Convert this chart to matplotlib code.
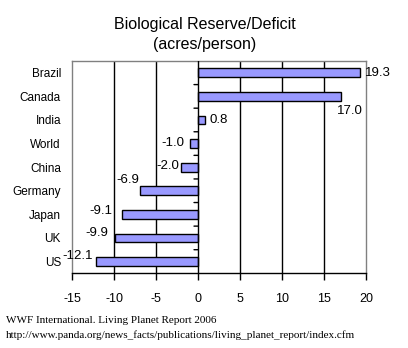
import matplotlib
matplotlib.use("Agg")
import matplotlib.pyplot as plt
import numpy as np

countries = ["Brazil", "Canada", "India", "World", "China", "Germany", "Japan", "UK", "US"]
values = [19.3, 17.0, 0.8, -1.0, -2.0, -6.9, -9.1, -9.9, -12.1]
x_ticks = [-15, -10, -5, 0, 5, 10, 15, 20]
value_labels = ["19.3", "17.0", "0.8", "-1.0", "-2.0", "-6.9", "-9.1", "-9.9", "-12.1"]

# label offsets (pixels) relative to the bar end, and alignment
label_style = [
    (5, 0, "left"),
    (22, -15, "right"),
    (5, 0, "left"),
    (-5, 1, "right"),
    (-2, 1, "right"),
    (-1, 11, "right"),
    (-9, 3, "right"),
    (-7, 5, "right"),
    (-3, 6, "right"),
]

plt.rcParams["font.family"] = ["Liberation Sans", "DejaVu Sans"]

fig = plt.figure(figsize=(4.08, 3.48), dpi=100)
ax = fig.add_axes([72 / 408, 1 - 273.3 / 348, (366 - 72) / 408, (273.3 - 61) / 348])

y = np.arange(len(countries))
ax.barh(y, values, height=0.37, color="#9999FF", edgecolor="black", linewidth=1.0, zorder=3)

ax.set_xlim(-15, 20)
ax.set_ylim(len(countries) - 0.5, -0.5)

# vertical gridlines
for gx in [-10, -5, 5, 10, 15]:
    ax.axvline(gx, color="black", linewidth=1.0, zorder=1)

# zero axis with category separator ticks
ax.axvline(0, color="black", linewidth=1.0, zorder=4)
for b in np.arange(0.5, len(countries) - 0.5, 1.0):
    ax.annotate("", xy=(0, b), xycoords="data", xytext=(-4, 0), textcoords="offset pixels",
                arrowprops=dict(arrowstyle="-", color="black", lw=1.0, shrinkA=0, shrinkB=0))

for spine in ["left", "right", "top"]:
    ax.spines[spine].set_color("#808080")
    ax.spines[spine].set_linewidth(1.0)
ax.spines["bottom"].set_color("black")
ax.spines["bottom"].set_linewidth(1.0)
ax.spines["bottom"].set_zorder(5)

ax.set_xticks(x_ticks)
ax.set_xticklabels([str(t) for t in x_ticks], fontsize=9)
ax.tick_params(axis="x", direction="out", length=5, width=1.0, pad=9, colors="black")
ax.set_yticks(y)
ax.set_yticklabels(countries, fontsize=8.5)
ax.tick_params(axis="y", length=0, pad=8)

for yi, v, lab, (dx, dy, ha) in zip(y, values, value_labels, label_style):
    ax.annotate(lab, xy=(v, yi), xycoords="data", xytext=(dx, dy), textcoords="offset pixels",
                ha=ha, va="center", fontsize=9.5, zorder=6)

fig.text(205 / 408, 1 - 24 / 348, "Biological Reserve/Deficit", ha="center", va="center", fontsize=11.5)
fig.text(205 / 408, 1 - 44 / 348, "(acres/person)", ha="center", va="center", fontsize=11.5)

fig.text(6 / 408, 1 - 320.5 / 348, "WWF International. Living Planet Report 2006",
         ha="left", va="center", fontsize=8, family="Liberation Serif")
fig.text(6 / 408, 1 - 335 / 348,
         "http://www.panda.org/news_facts/publications/living_planet_report/index.cfm",
         ha="left", va="center", fontsize=8, family="Liberation Serif")

fig.savefig("out.png", dpi=100, facecolor="white")
